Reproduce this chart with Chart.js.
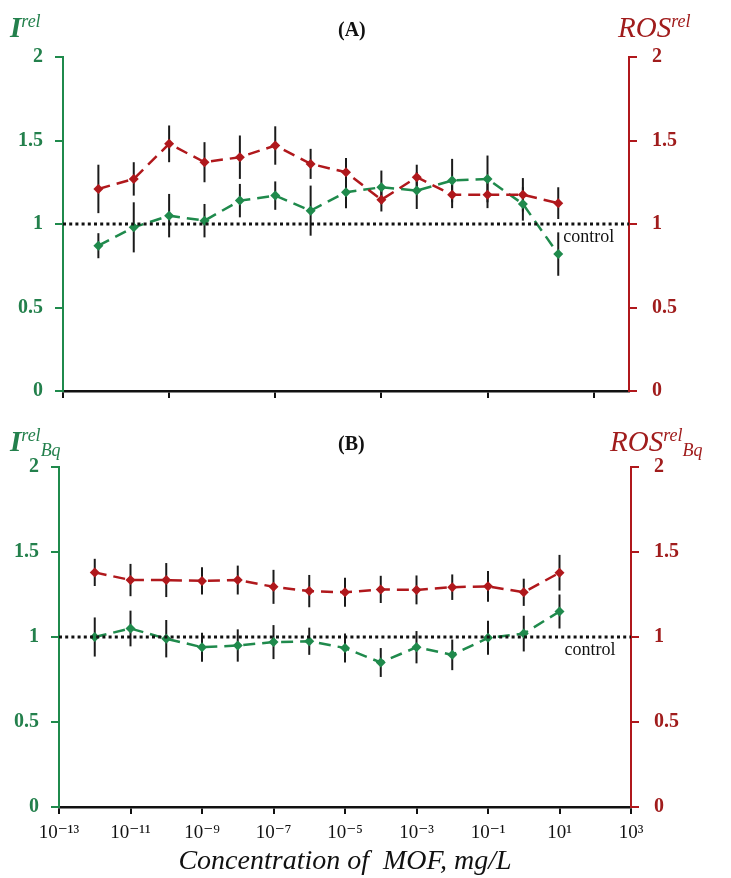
<!DOCTYPE html>
<html>
<head>
<meta charset="utf-8">
<script src="https://cdn.jsdelivr.net/npm/chart.js@4.4.1/dist/chart.umd.min.js"></script>
<style>
  body { margin: 0; background: #fff; width: 731px; height: 878px; position: relative; overflow: hidden; }
  .box { position: absolute; left: 0; }
  .lbl { position: absolute; font-family: 'Liberation Serif', 'DejaVu Serif', serif; white-space: nowrap; line-height: 1; }
  .green { color: #23804c; }
  .red { color: #a01c1c; }
  .big { font-size: 29px; font-style: italic; }
  .big sup { font-size: 18px; vertical-align: 10px; }
  .big sub { font-size: 18px; vertical-align: -5px; }
  .panel { font-size: 20px; font-weight: bold; color: #111; }
</style>
</head>
<body>

<div class="box" style="top:0;width:731px;height:430px"><canvas id="chartA" width="731" height="430"></canvas></div>
<div class="box" style="top:420px;width:731px;height:458px"><canvas id="chartB" width="731" height="458"></canvas></div>

<div class="lbl big green" style="left:10px;top:12px;font-weight:bold">I<sup style="font-weight:normal">rel</sup></div>
<div class="lbl panel" style="left:338px;top:19px">(A)</div>
<div class="lbl big red" style="left:618px;top:12px">ROS<sup>rel</sup></div>

<div class="lbl big green" style="left:10px;top:426px;font-weight:bold">I<sup style="font-weight:normal">rel</sup><sub style="font-weight:normal">Bq</sub></div>
<div class="lbl panel" style="left:338px;top:433px">(B)</div>
<div class="lbl big red" style="left:610px;top:426px">ROS<sup>rel</sup><sub>Bq</sub></div>

<script>
// concentrations of MOF, mg/L
const concentrations = [1e-12, 1e-11, 1e-10, 1e-9, 1e-8, 1e-7, 1e-6, 1e-5, 1e-4, 1e-3, 1e-2, 1e-1, 1e0, 1e1];

// panel A
const intensityA    = [0.87, 0.98, 1.05, 1.02, 1.14, 1.17, 1.08, 1.19, 1.22, 1.20, 1.26, 1.27, 1.12, 0.82];
const intensityErrA = [0.075, 0.15, 0.13, 0.10, 0.10, 0.085, 0.15, 0.095, 0.10, 0.11, 0.13, 0.14, 0.10, 0.13];
const rosA          = [1.21, 1.27, 1.48, 1.37, 1.40, 1.47, 1.36, 1.31, 1.145, 1.28, 1.175, 1.175, 1.175, 1.125];
const rosErrA       = [0.145, 0.10, 0.11, 0.12, 0.13, 0.115, 0.09, 0.085, 0.07, 0.075, 0.08, 0.08, 0.10, 0.095];

// panel B
const intensityB    = [1.00, 1.05, 0.99, 0.94, 0.95, 0.97, 0.975, 0.935, 0.85, 0.94, 0.895, 0.995, 1.02, 1.15];
const intensityErrB = [0.115, 0.105, 0.11, 0.085, 0.095, 0.10, 0.08, 0.085, 0.085, 0.095, 0.09, 0.10, 0.105, 0.10];
const rosB          = [1.38, 1.335, 1.335, 1.33, 1.335, 1.295, 1.27, 1.263, 1.28, 1.277, 1.293, 1.298, 1.263, 1.378];
const rosErrB       = [0.08, 0.095, 0.10, 0.08, 0.085, 0.10, 0.095, 0.085, 0.08, 0.085, 0.075, 0.09, 0.08, 0.105];

const controlLevel = 1;
const xTicksA = [1e-13, 1e-10, 1e-7, 1e-4, 1e-1, 1e2];
const xTicksB = [1e-13, 1e-11, 1e-9, 1e-7, 1e-5, 1e-3, 1e-1, 1e1, 1e3];
const yTicks = [0, 0.5, 1, 1.5, 2];

const GREEN = '#1f8a4c';
const RED = '#b0181c';
const GREEN_TXT = '#23804c';
const RED_TXT = '#a01c1c';
const SERIF = "'Liberation Serif', 'DejaVu Serif', serif";

const SUP = { '-': '\u207B', '0': '\u2070', '1': '\u00B9', '2': '\u00B2', '3': '\u00B3', '4': '\u2074',
              '5': '\u2075', '6': '\u2076', '7': '\u2077', '8': '\u2078', '9': '\u2079' };
function powerLabel(v) {
    const e = Math.round(Math.log10(v)).toString();
    return '10' + e.split('').map(c => SUP[c]).join('');
}

function points(ys) {
    return concentrations.map((x, i) => ({ x: x, y: ys[i] }));
}

// vertical error bars, drawn under the markers
const errorBars = {
    id: 'errorBars',
    beforeDatasetsDraw(chart) {
        const ctx = chart.ctx;
        chart.data.datasets.forEach((ds, i) => {
            if (!ds.errors) return;
            const meta = chart.getDatasetMeta(i);
            const ys = chart.scales[ds.yAxisID];
            ctx.save();
            ctx.strokeStyle = '#1a1a1a';
            ctx.lineWidth = 2;
            meta.data.forEach((pt, j) => {
                const v = ds.data[j].y, e = ds.errors[j];
                ctx.beginPath();
                ctx.moveTo(pt.x, ys.getPixelForValue(v + e));
                ctx.lineTo(pt.x, ys.getPixelForValue(v - e));
                ctx.stroke();
            });
            ctx.restore();
        });
    }
};

// "control" note under the dotted line
const controlNote = {
    id: 'controlNote',
    afterDatasetsDraw(chart) {
        const ctx = chart.ctx;
        const x = chart.scales.x.getPixelForValue(concentrations[concentrations.length - 1]) + 5;
        const y = chart.scales.y.getPixelForValue(controlLevel) + 13;
        ctx.save();
        ctx.font = '18px ' + SERIF;
        ctx.fillStyle = '#111';
        ctx.textAlign = 'left';
        ctx.textBaseline = 'middle';
        ctx.fillText('control', x, y);
        ctx.restore();
    }
};

function makeChart(id, green, greenErr, red, redErr, xTicks, opts) {
    const ctx = document.getElementById(id).getContext('2d');
    return new Chart(ctx, {
        type: 'line',
        data: {
            datasets: [
                {
                    data: [{ x: 1e-13, y: controlLevel }, { x: 1e3, y: controlLevel }],
                    yAxisID: 'y',
                    borderColor: '#111',
                    borderWidth: 3,
                    borderDash: [3, 3.2],
                    pointRadius: 0
                },
                {
                    data: points(red),
                    errors: redErr,
                    yAxisID: 'y2',
                    borderColor: RED,
                    backgroundColor: RED,
                    borderWidth: 2.5,
                    borderDash: [12, 7],
                    pointStyle: 'rectRot',
                    pointRadius: 5,
                    pointBorderWidth: 0
                },
                {
                    data: points(green),
                    errors: greenErr,
                    yAxisID: 'y',
                    borderColor: GREEN,
                    backgroundColor: GREEN,
                    borderWidth: 2.5,
                    borderDash: [12, 7],
                    pointStyle: 'rectRot',
                    pointRadius: 5,
                    pointBorderWidth: 0
                }
            ]
        },
        options: {
            responsive: false,
            animation: false,
            devicePixelRatio: 1,
            layout: { padding: { top: opts.top, left: 0, right: 0, bottom: 0 } },
            plugins: { legend: { display: false }, tooltip: { enabled: false } },
            scales: {
                x: {
                    type: 'logarithmic',
                    min: 1e-13,
                    max: 1e3,
                    afterBuildTicks: s => { s.ticks = xTicks.map(v => ({ value: v })); },
                    afterFit: s => { s.height = opts.xHeight; },
                    ticks: {
                        display: opts.xLabels,
                        color: '#111',
                        font: { family: SERIF, size: 19 },
                        padding: 8,
                        maxRotation: 0,
                        autoSkip: false,
                        callback: v => powerLabel(v)
                    },
                    title: {
                        display: opts.xLabels,
                        text: 'Concentration of  MOF, mg/L',
                        color: '#111',
                        font: { family: SERIF, size: 28, style: 'italic' },
                        padding: { top: 0, bottom: 0 }
                    },
                    grid: { drawOnChartArea: false, drawTicks: true, tickLength: 7, color: '#111', lineWidth: 2 },
                    border: { color: '#111', width: 2.5 }
                },
                y: {
                    position: 'left',
                    min: 0,
                    max: 2,
                    afterBuildTicks: s => { s.ticks = yTicks.map(v => ({ value: v })); },
                    afterFit: s => { s.width = opts.left; },
                    ticks: { color: GREEN_TXT, font: { family: SERIF, size: 20, weight: 'bold' }, padding: 12,
                             callback: v => String(v) },
                    grid: { drawOnChartArea: false, tickLength: 8, color: GREEN, lineWidth: 2 },
                    border: { color: GREEN, width: 2 }
                },
                y2: {
                    position: 'right',
                    min: 0,
                    max: 2,
                    afterBuildTicks: s => { s.ticks = yTicks.map(v => ({ value: v })); },
                    afterFit: s => { s.width = opts.right; },
                    ticks: { color: RED_TXT, font: { family: SERIF, size: 20, weight: 'bold' }, padding: 15,
                             callback: v => String(v) },
                    grid: { drawOnChartArea: false, tickLength: 8, color: RED, lineWidth: 2 },
                    border: { color: RED, width: 2 }
                }
            }
        },
        plugins: [errorBars, controlNote]
    });
}

makeChart('chartA', intensityA, intensityErrA, rosA, rosErrA, xTicksA,
    { top: 57, left: 63, right: 102, xHeight: 39, xLabels: false });
makeChart('chartB', intensityB, intensityErrB, rosB, rosErrB, xTicksB,
    { top: 47, left: 59, right: 100, xHeight: 71, xLabels: true });
</script>
</body>
</html>
